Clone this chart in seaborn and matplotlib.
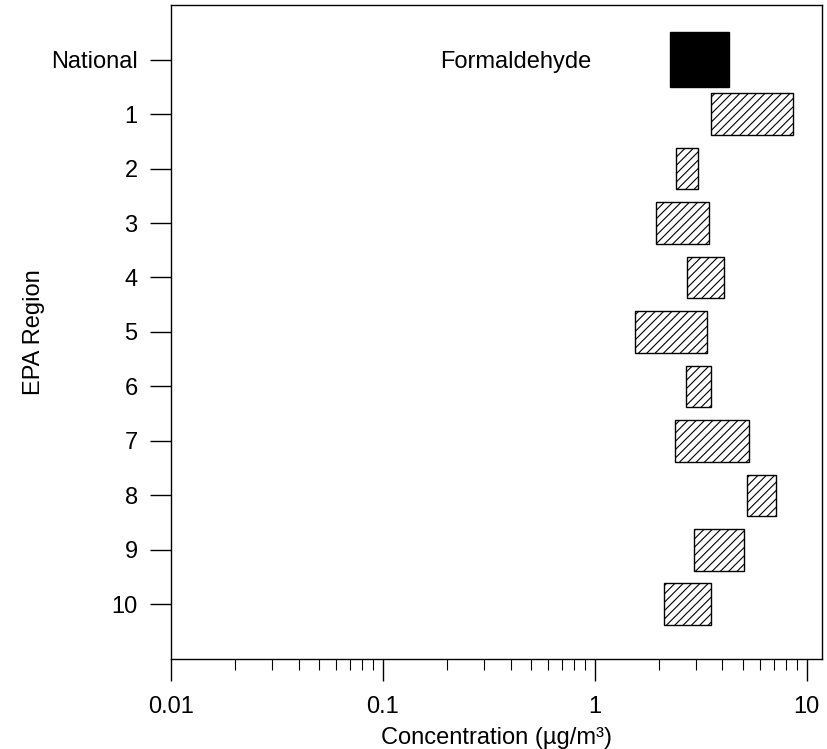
import matplotlib
matplotlib.use("Agg")
import matplotlib.pyplot as plt
from matplotlib.ticker import LogLocator, NullFormatter, FixedLocator, FixedFormatter
import seaborn as sns
import numpy as np

# Formaldehyde concentration ranges (µg/m³) by EPA region
regions = ["National", "1", "2", "3", "4", "5", "6", "7", "8", "9", "10"]
low = [2.25, 3.54, 2.41, 1.94, 2.71, 1.55, 2.68, 2.40, 5.23, 2.94, 2.12]
high = [4.29, 8.61, 3.05, 3.44, 4.07, 3.38, 3.53, 5.33, 7.16, 5.03, 3.55]
pollutant = "Formaldehyde"

sns.set_theme(style="white")
plt.rcParams["font.family"] = ["Liberation Sans", "DejaVu Sans"]
plt.rcParams["hatch.linewidth"] = 0.8
plt.rcParams["hatch.color"] = "black"
plt.rcParams["text.color"] = "black"
plt.rcParams["axes.labelcolor"] = "black"
plt.rcParams["xtick.color"] = "black"
plt.rcParams["ytick.color"] = "black"

fig = plt.figure(figsize=(8.28, 7.49), dpi=100)
ax = fig.add_axes([0.2065, 0.1202, 0.7863, 0.8731])

pos = np.arange(len(regions))
low_a = np.array(low)
high_a = np.array(high)

# national summary drawn solid, regions hatched
ax.barh(pos[:1], high_a[:1] - low_a[:1], left=low_a[:1], height=1.0,
        color="black", edgecolor="black", linewidth=1.0)
ax.barh(pos[1:], high_a[1:] - low_a[1:], left=low_a[1:], height=0.77,
        color="white", edgecolor="black", linewidth=1.0, hatch="////")

ax.set_xscale("log")
ax.set_xlim(0.01, 11.8)
ax.set_ylim(len(regions), -1)

ax.xaxis.set_major_locator(FixedLocator([0.01, 0.1, 1, 10]))
ax.xaxis.set_major_formatter(FixedFormatter(["0.01", "0.1", "1", "10"]))
ax.xaxis.set_minor_locator(LogLocator(base=10, subs=np.arange(2, 10), numticks=20))
ax.xaxis.set_minor_formatter(NullFormatter())

ax.set_yticks(pos)
ax.set_yticklabels(regions)

for s in ax.spines.values():
    s.set_visible(True)
    s.set_color("black")
    s.set_linewidth(1.0)

ax.tick_params(axis="x", which="major", direction="out", length=15.5, width=1.0,
               color="black", labelcolor="black", labelsize=17, pad=11,
               bottom=True, top=False)
ax.tick_params(axis="x", which="minor", direction="out", length=8, width=0.8,
               color="black", bottom=True, top=False)
ax.tick_params(axis="y", which="major", direction="out", length=15, width=1.0,
               color="black", labelcolor="black", labelsize=17, pad=9,
               left=True, right=False)

ax.set_xlabel("Concentration (µg/m³)", fontsize=17, labelpad=7, color="black")
ax.set_ylabel("EPA Region", fontsize=17, labelpad=4, color="black")

ax.text(0.187, 0.05, pollutant, fontsize=17, ha="left", va="center", color="black")

fig.savefig("out.png", dpi=100)
